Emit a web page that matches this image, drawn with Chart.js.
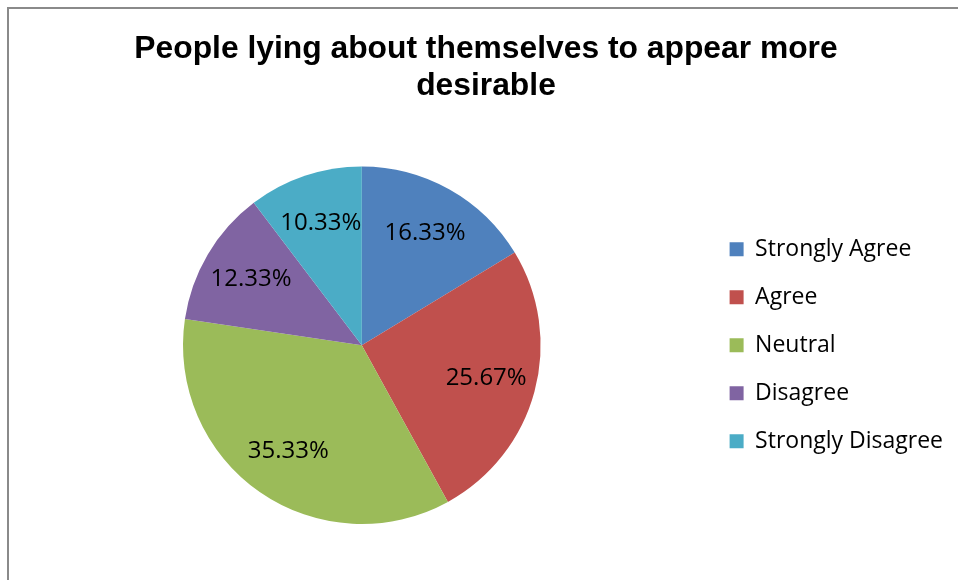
<!DOCTYPE html>
<html>
<head>
<meta charset="utf-8">
<script src="https://cdn.jsdelivr.net/npm/chart.js@4.4.1/dist/chart.umd.min.js"></script>
<style>
  html, body { margin: 0; padding: 0; background: #fff; }
  #wrap { width: 958px; height: 580px; }
</style>
</head>
<body>
<div id="wrap"><canvas id="myChart"></canvas></div>
<script>
var categories = ['Strongly Agree', 'Agree', 'Neutral', 'Disagree', 'Strongly Disagree'];
var shares = [16.33, 25.67, 35.33, 12.33, 10.33];
var sliceColors = ['#4F81BD', '#C0504D', '#9BBB59', '#8064A2', '#4BACC6'];

// grey frame round the chart, only left and top edges fall inside the window
var framePlugin = {
  id: 'frame',
  beforeDraw: function(chart) {
    var c = chart.ctx;
    c.save();
    c.strokeStyle = '#8a8a8a';
    c.lineWidth = 2;
    c.strokeRect(8, 8, 980, 620);
    c.restore();
  }
};

// percentage text inside each slice
var sliceLabels = {
  id: 'sliceLabels',
  afterDatasetsDraw: function(chart) {
    var c = chart.ctx;
    var meta = chart.getDatasetMeta(0);
    c.save();
    c.font = '24px "Open Sans"';
    c.fillStyle = '#000';
    c.textAlign = 'center';
    c.textBaseline = 'middle';
    meta.data.forEach(function(arc, i) {
      var p = arc.getProps(['x', 'y', 'startAngle', 'endAngle', 'outerRadius'], true);
      var mid = (p.startAngle + p.endAngle) / 2;
      var r = p.outerRadius * 0.72;
      c.fillText(shares[i].toFixed(2) + '%', p.x + Math.cos(mid) * r, p.y + Math.sin(mid) * r);
    });
    c.restore();
  }
};

var ctx = document.getElementById('myChart').getContext('2d');
var myChart = new Chart(ctx, {
  type: 'pie',
  data: {
    labels: categories,
    datasets: [{
      data: shares,
      backgroundColor: sliceColors,
      borderWidth: 0
    }]
  },
  options: {
    responsive: true,
    maintainAspectRatio: false,
    animation: false,
    layout: {
      padding: { top: 10, left: 19, right: 5, bottom: 56 }
    },
    plugins: {
      title: {
        display: true,
        text: ['People lying about themselves to appear more', 'desirable'],
        color: '#000',
        font: { family: '"Liberation Sans", Arial, sans-serif', size: 31.8, weight: 'bold', lineHeight: 1.17 },
        padding: { top: 20.5, bottom: 61.5 }
      },
      legend: {
        position: 'right',
        fullSize: false,
        labels: {
          boxWidth: 14,
          boxHeight: 14,
          padding: 25,
          color: '#000',
          font: { family: '"Open Sans"', size: 23 }
        }
      },
      tooltip: { enabled: false }
    }
  },
  plugins: [framePlugin, sliceLabels]
});
</script>
</body>
</html>
